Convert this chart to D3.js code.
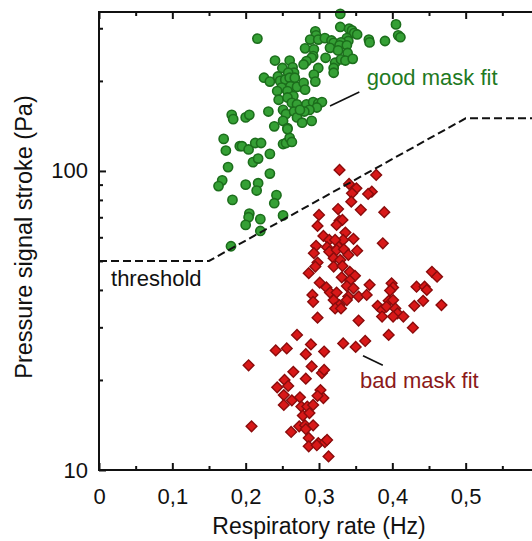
<!DOCTYPE html>
<html>
<head>
<meta charset="utf-8">
<script src="https://cdn.jsdelivr.net/npm/d3@7"></script>
<style>
  body { margin: 0; background: #fff; }
  text { font-family: "Liberation Sans", Arial, sans-serif; }
</style>
</head>
<body>
<div id="chart"></div>
<script>
// Size of the picture
var w = 532;
var h = 541;

// good mask fit: respiratory rate (Hz), pressure stroke (Pa)
var goodRate = [0.329,0.216,0.405,0.408,0.411,0.390,0.368,0.369,0.329,0.341,0.345,0.348,0.352,0.295,0.296,0.288,0.299,0.308,0.317,0.320,
  0.338,0.340,0.330,0.328,0.338,0.315,0.326,0.339,0.281,0.293,0.292,0.309,0.290,0.283,0.279,0.322,0.320,0.320,0.330,0.336,
  0.346,0.299,0.293,0.295,0.240,0.260,0.250,0.264,0.266,0.258,0.225,0.233,0.244,0.247,0.254,0.260,0.267,0.249,0.261,0.270,
  0.279,0.281,0.243,0.257,0.265,0.245,0.257,0.263,0.270,0.283,0.292,0.299,0.304,0.297,0.287,0.251,0.255,0.266,0.270,0.280,
  0.274,0.231,0.251,0.277,0.290,0.239,0.257,0.181,0.183,0.200,0.205,0.170,0.173,0.192,0.195,0.204,0.213,0.221,0.233,0.210,
  0.217,0.251,0.255,0.260,0.263,0.176,0.168,0.163,0.200,0.217,0.215,0.233,0.182,0.242,0.239,0.205,0.204,0.200,0.220,0.220,
  0.251,0.180,0.257];
var goodStroke = [335,277,309,284,280,272,275,269,303,299,295,289,286,293,284,275,275,278,273,268,
  278,272,269,263,263,258,253,248,257,255,242,239,239,233,227,230,221,213,236,234,
  237,221,210,199,234,234,221,222,213,213,205,199,207,200,202,205,205,190,192,191,
  197,187,185,185,178,173,176,169,167,167,170,168,170,163,160,160,155,158,151,158,
  160,158,147,145,147,141,139,154,149,151,154,128,117,121,121,118,124,124,114,107,
  110,123,124,129,125,103,93,89,90,91,86,98,80,83,78,72,70,66,69,63,
  71,56,138];

// bad mask fit
var badRate = [0.328,0.378,0.341,0.351,0.345,0.344,0.372,0.367,0.357,0.389,0.326,0.300,0.298,0.328,0.332,0.324,0.336,0.347,0.333,0.387,
  0.306,0.314,0.322,0.327,0.311,0.296,0.293,0.314,0.324,0.334,0.340,0.352,0.320,0.329,0.298,0.320,0.332,0.295,0.286,0.342,
  0.349,0.331,0.342,0.301,0.338,0.347,0.310,0.315,0.324,0.369,0.340,0.291,0.292,0.320,0.328,0.338,0.354,0.365,0.399,0.401,
  0.397,0.395,0.401,0.433,0.444,0.447,0.454,0.461,0.442,0.430,0.467,0.380,0.386,0.392,0.404,0.407,0.415,0.322,0.330,0.298,
  0.354,0.386,0.401,0.428,0.395,0.270,0.241,0.256,0.289,0.282,0.307,0.333,0.350,0.363,0.204,0.265,0.290,0.282,0.304,0.307,
  0.253,0.243,0.258,0.252,0.252,0.263,0.274,0.302,0.306,0.298,0.276,0.284,0.292,0.278,0.287,0.208,0.262,0.273,0.281,0.282,
  0.292,0.286,0.286,0.299,0.308,0.311,0.297,0.313];
var badStroke = [100.8,97,90.5,87.5,84.2,78.9,85.2,83.8,74.1,72.8,74.6,71.3,65.5,68.2,68.6,66,62.2,59.3,58.8,57.3,
  60.6,58.8,58.8,55.6,55.6,56.2,53.1,53.7,54.4,54.7,52.4,54.1,51.1,50.4,49.4,47.9,48.1,47.9,45.5,46,
  44.6,44.1,43,42.3,41.2,40.5,40.8,39.2,39.2,41.6,38,38.5,36.5,37,35.6,37,38,38.5,42.1,40.8,
  39.8,36.8,37,41,41,40,46,44.3,36.8,35.4,35.6,35.4,34.3,35.2,34.7,33.4,32.6,34.7,34.7,32.3,
  31.6,32.6,32.6,29.9,28.3,28.3,25.1,25.5,26.3,24.4,24.9,26.5,25.8,27,22.4,21.3,22.2,20.2,21.1,21.6,
  20,18.9,19.1,17.8,16.5,17.1,17.5,18.5,17.4,17.7,16.3,16.3,16.5,15.2,15.5,14,13.4,14,14.1,13.7,
  14.1,12.8,12,12.3,12.4,12.6,12.1,11.1];

// threshold curve
var threshRate = [0, 0.15, 0.5, 0.6];
var threshStroke = [50, 50, 150, 150];

// tick labels
var xTicks = [0, 0.1, 0.2, 0.3, 0.4, 0.5];
var xTickLabels = ["0", "0,1", "0,2", "0,3", "0,4", "0,5"];
var yTicks = [10, 100];
var yTickLabels = ["10", "100"];

var margin = {left: 99, top: 12};
var x = d3.scaleLinear().domain([0, 0.6]).range([margin.left, 539]);
var y = d3.scaleLog().domain([10, 340]).range([470, margin.top]);

var svg = d3.select('#chart').append('svg')
	.attr('width', w)
	.attr('height', h);

var good = goodRate.map(function(d, i) { return [d, goodStroke[i]]; });
var bad = badRate.map(function(d, i) { return [d, badStroke[i]]; });

// green circles
svg.append('g')
	.selectAll('circle')
	.data(good)
  .enter().append('circle')
	.attr('cx', function(d) { return x(d[0]); })
	.attr('cy', function(d) { return y(d[1]); })
	.attr('r', 4.6)
	.attr('fill', '#35a035')
	.attr('stroke', '#1c6e1c')
	.attr('stroke-width', 1.6);

// red diamonds
var diamond = d3.symbol().type(d3.symbolSquare).size(58);
svg.append('g')
	.selectAll('path')
	.data(bad)
  .enter().append('path')
	.attr('d', diamond)
	.attr('transform', function(d) { return 'translate(' + x(d[0]) + ',' + y(d[1]) + ') rotate(45)'; })
	.attr('fill', '#d81818')
	.attr('stroke', '#8a0c0c')
	.attr('stroke-width', 1.4);

// threshold dashed line
var line = d3.line()
	.x(function(d, i) { return x(d); })
	.y(function(d, i) { return y(threshStroke[i]); });
svg.append('path')
	.attr('d', line(threshRate))
	.attr('fill', 'none')
	.attr('stroke', '#111')
	.attr('stroke-width', 2)
	.attr('stroke-dasharray', '8,4');

// axes, ticks inside the frame
var xMinor = d3.range(0.05, 0.6, 0.1);
var yMinor = [20,30,40,50,60,70,80,90,200,300];

svg.append('g').attr('transform', 'translate(0,470)')
	.call(d3.axisBottom(x).tickValues(xTicks).tickSize(-7).tickPadding(18)
		.tickFormat(function(d, i) { return xTickLabels[i]; }))
	.call(function(g) { g.select('.domain').remove(); });
svg.append('g').attr('transform', 'translate(0,470)')
	.call(d3.axisBottom(x).tickValues(xMinor).tickSize(-4).tickFormat(''))
	.call(function(g) { g.select('.domain').remove(); });
svg.append('g').attr('transform', 'translate(0,' + margin.top + ')')
	.call(d3.axisTop(x).tickValues(xTicks).tickSize(-7).tickFormat(''))
	.call(function(g) { g.select('.domain').remove(); });
svg.append('g').attr('transform', 'translate(0,' + margin.top + ')')
	.call(d3.axisTop(x).tickValues(xMinor).tickSize(-4).tickFormat(''))
	.call(function(g) { g.select('.domain').remove(); });

svg.append('g').attr('transform', 'translate(' + margin.left + ',0)')
	.call(d3.axisLeft(y).tickValues(yTicks).tickSize(-7).tickPadding(11)
		.tickFormat(function(d, i) { return yTickLabels[i]; }))
	.call(function(g) { g.select('.domain').remove(); });
svg.append('g').attr('transform', 'translate(' + margin.left + ',0)')
	.call(d3.axisLeft(y).tickValues(yMinor).tickSize(-4).tickFormat(''))
	.call(function(g) { g.select('.domain').remove(); });

svg.selectAll('.tick line').attr('stroke', '#111').attr('stroke-width', 2);
svg.selectAll('.tick text').attr('font-size', 22).attr('fill', '#111')
	.attr('font-family', '"Liberation Sans", Arial, sans-serif');

// frame
svg.append('rect')
	.attr('x', x(0)).attr('y', y(340))
	.attr('width', x(0.6) - x(0)).attr('height', y(10) - y(340))
	.attr('fill', 'none').attr('stroke', '#111').attr('stroke-width', 2);

// axis titles
svg.append('text')
	.attr('x', 319).attr('y', 534)
	.attr('text-anchor', 'middle')
	.attr('font-size', 23).attr('fill', '#111')
	.text('Respiratory rate (Hz)');
svg.append('text')
	.attr('transform', 'translate(32,237) rotate(-90)')
	.attr('text-anchor', 'middle')
	.attr('font-size', 23.5).attr('fill', '#111')
	.text('Pressure signal stroke (Pa)');

// annotations
svg.append('text')
	.attr('x', x(0.0164)).attr('y', y(41.2))
	.attr('font-size', 22).attr('fill', '#111')
	.text('threshold');
svg.append('line')
	.attr('x1', x(0.315)).attr('y1', y(165))
	.attr('x2', x(0.355)).attr('y2', y(183.7))
	.attr('stroke', '#111').attr('stroke-width', 1.6);
svg.append('text')
	.attr('x', x(0.365)).attr('y', y(194))
	.attr('font-size', 22).attr('fill', '#1f7a1f')
	.text('good mask fit');
svg.append('line')
	.attr('x1', x(0.360)).attr('y1', y(24.1))
	.attr('x2', x(0.387)).attr('y2', y(22.4))
	.attr('stroke', '#111').attr('stroke-width', 1.6);
svg.append('text')
	.attr('x', x(0.356)).attr('y', y(18.8))
	.attr('font-size', 22).attr('fill', '#8b1a1a')
	.text('bad mask fit');
</script>
</body>
</html>
